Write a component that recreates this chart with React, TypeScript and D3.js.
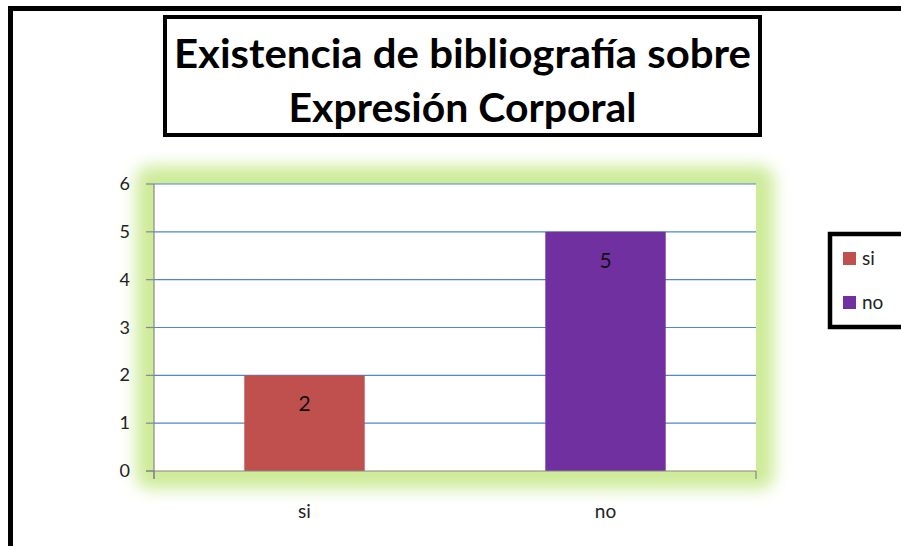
import React from "react";
import * as d3 from "d3";

const categories = ["si", "no"];
const values = [2, 5];
const barColors = ["#C0504D", "#7030A0"];
const yTicks = [0, 1, 2, 3, 4, 5, 6];
const titleLines = ["Existencia de bibliografía sobre", "Expresión Corporal"];

const W = 901;
const H = 546;
const plot = { left: 154, right: 756, top: 184, bottom: 471 };
const FONT = "Lato, 'Open Sans', sans-serif";

export default function App() {
  const y = d3.scaleLinear().domain([0, 6]).range([plot.bottom, plot.top]);
  const x = d3
    .scaleBand<string>()
    .domain(categories)
    .range([plot.left, plot.right])
    .paddingInner(0.6)
    .paddingOuter(0.3);
  const endTicks = [plot.left, plot.right];

  return (
    <svg
      width={W}
      height={H}
      style={{ position: "absolute", left: 0, top: 0, background: "#fff" }}
      fontFamily={FONT}
    >
      <defs>
        <filter id="glow" x="-20%" y="-30%" width="140%" height="160%">
          <feGaussianBlur stdDeviation="8" />
        </filter>
      </defs>
      <rect width={W} height={H} fill="#fff" />
      {/* outer frame */}
      <rect x={10.5} y={8.5} width={1000} height={1000} fill="none" stroke="#000" strokeWidth={5} />

      {/* title box */}
      <rect x={165} y={17} width={595} height={118} fill="#fff" stroke="#000" strokeWidth={4} />
      <text x={462.5} y={68} textAnchor="middle" fontSize={41} fontWeight={700} fill="#000"
        textLength={577} lengthAdjust="spacingAndGlyphs">
        {titleLines[0]}
      </text>
      <text x={462.5} y={122} textAnchor="middle" fontSize={41} fontWeight={700} fill="#000"
        textLength={348} lengthAdjust="spacingAndGlyphs">
        {titleLines[1]}
      </text>

      {/* glow around plot area */}
      <rect
        x={plot.left - 18}
        y={plot.top - 18}
        width={plot.right - plot.left + 36}
        height={plot.bottom - plot.top + 36}
        rx={14}
        fill="#cdeb98"
        filter="url(#glow)"
      />
      <rect x={plot.left} y={plot.top} width={plot.right - plot.left} height={plot.bottom - plot.top} fill="#fff" />

      {/* gridlines */}
      {yTicks.filter((t) => t > 0).map((t) => (
        <line key={t} x1={plot.left} x2={plot.right} y1={y(t)} y2={y(t)} stroke="#4F86CF" strokeWidth={1.2} />
      ))}

      {/* bars */}
      {categories.map((c, i) => (
        <rect
          key={c}
          x={x(c)}
          y={y(values[i])}
          width={x.bandwidth()}
          height={plot.bottom - y(values[i])}
          fill={barColors[i]}
        />
      ))}
      {categories.map((c, i) => (
        <text
          key={c}
          x={(x(c) as number) + x.bandwidth() / 2}
          y={y(values[i]) + 36}
          textAnchor="middle"
          fontSize={21}
          fill="#111"
        >
          {values[i]}
        </text>
      ))}

      {/* axes */}
      <line x1={plot.left} x2={plot.left} y1={plot.top} y2={plot.bottom + 8} stroke="#868686" strokeWidth={1.2} />
      <line x1={plot.left - 8} x2={plot.right} y1={plot.bottom} y2={plot.bottom} stroke="#868686" strokeWidth={1.2} />
      {yTicks.map((t) => (
        <g key={t}>
          <line x1={plot.left - 8} x2={plot.left} y1={y(t)} y2={y(t)} stroke="#868686" strokeWidth={1.2} />
          <text x={130} y={y(t) + 6} textAnchor="end" fontSize={18} fill="#222">
            {t}
          </text>
        </g>
      ))}
      {endTicks.map((b, i) => (
        <line key={i} x1={b} x2={b} y1={plot.bottom} y2={plot.bottom + 8} stroke="#868686" strokeWidth={1.2} />
      ))}
      {categories.map((c) => (
        <text key={c} x={(x(c) as number) + x.bandwidth() / 2} y={518} textAnchor="middle" fontSize={19} fill="#222">
          {c}
        </text>
      ))}

      {/* legend */}
      <rect x={830} y={234} width={100} height={93} fill="#fff" stroke="#000" strokeWidth={4.5} />
      {categories.map((c, i) => (
        <g key={c}>
          <rect x={843} y={252 + i * 44} width={13} height={13} fill={barColors[i]} />
          <text x={862} y={265 + i * 44} fontSize={19} fill="#222">
            {c}
          </text>
        </g>
      ))}
    </svg>
  );
}
